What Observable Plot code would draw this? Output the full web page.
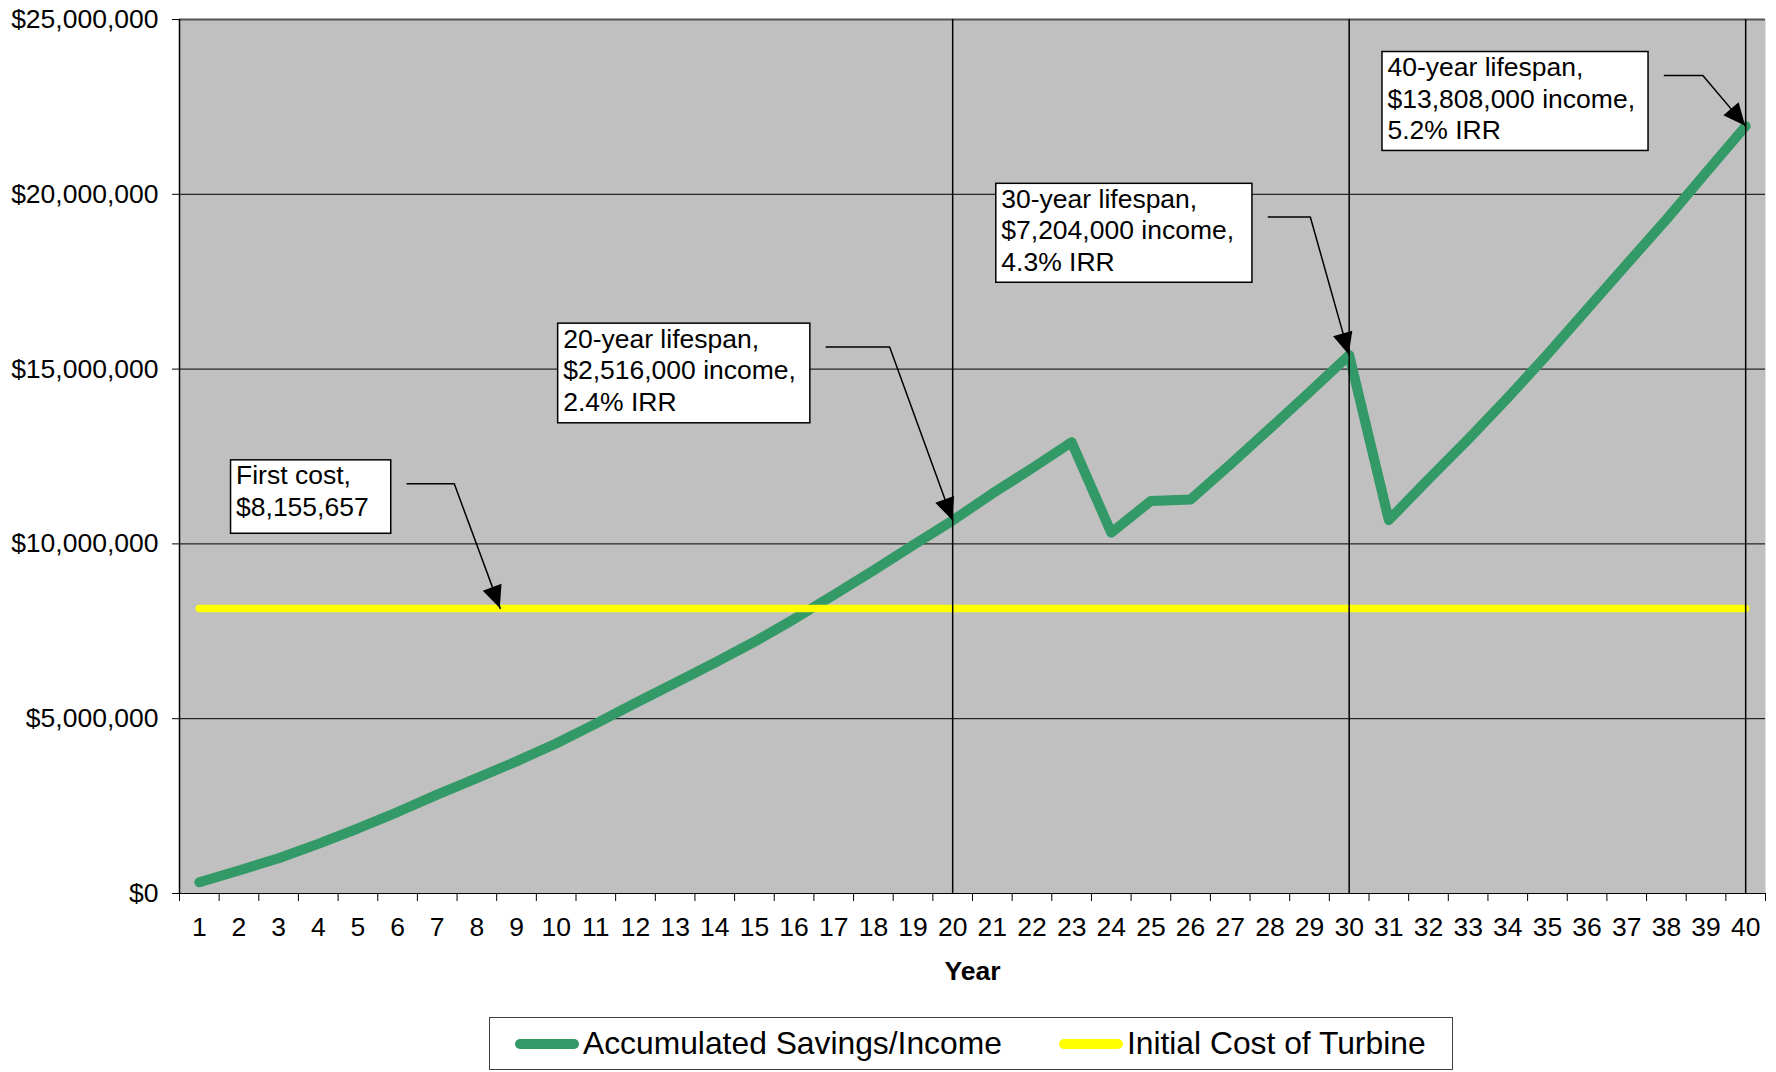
<!DOCTYPE html>
<html>
<head>
<meta charset="utf-8">
<script src="https://cdn.jsdelivr.net/npm/d3@7"></script>
<script src="https://cdn.jsdelivr.net/npm/@observablehq/plot@0.6"></script>
<style>
  html, body { margin: 0; padding: 0; background: #fff; }
  body { font-family: "Liberation Sans", Arial, sans-serif; position: relative; width: 1776px; height: 1072px; overflow: hidden; }
  #legend { position: absolute; left: 489px; top: 1017px; width: 964px; height: 53px; box-sizing: border-box;
            border: 1.5px solid #404040; display: flex; align-items: center; padding-left: 25px;
            font-size: 31.8px; color: #000; white-space: nowrap; }
  #legend .sw { display: inline-block; width: 64px; height: 10px; border-radius: 5px; margin-right: 4px; }
</style>
</head>
<body>
<div id="chart"></div>
<div id="legend"></div>
<script>
// ---- data ----
const years = [1,2,3,4,5,6,7,8,9,10,11,12,13,14,15,16,17,18,19,20,
               21,22,23,24,25,26,27,28,29,30,31,32,33,34,35,36,37,38,39,40];
const savings = [320000, 660000, 1010000, 1420000, 1860000, 2330000, 2830000, 3300000, 3780000, 4290000,
                 4860000, 5450000, 6020000, 6600000, 7200000, 7850000, 8540000, 9240000, 9960000, 10670000,
                 11440000, 12160000, 12910000, 10320000, 11230000, 11270000, 12270000, 13300000, 14340000, 15400000,
                 10680000, 11850000, 12990000, 14180000, 15420000, 16710000, 18000000, 19280000, 20620000, 21950000];
const firstCost = 8155657;
const yTicks = [0, 5000000, 10000000, 15000000, 20000000, 25000000];
const lifespanYears = [20, 30, 40];
const seriesNames = ["Accumulated Savings/Income", "Initial Cost of Turbine"];
const seriesColors = ["#339966", "#ffff00"];

const annotations = [
  {label: "First cost,\n$8,155,657",
   x1: 1.80, x2: 5.84, y1: 12390000, y2: 10290000, sx: 6.24, sy: 11720000, ex: 7.43, tx: 8.59, ty: firstCost},
  {label: "20-year lifespan,\n$2,516,000 income,\n2.4% IRR",
   x1: 10.05, x2: 16.41, y1: 16300000, y2: 13450000, sx: 16.81, sy: 15630000, ex: 18.41, tx: 20, ty: savings[19]},
  {label: "30-year lifespan,\n$7,204,000 income,\n4.3% IRR",
   x1: 21.10, x2: 27.56, y1: 20300000, y2: 17470000, sx: 27.96, sy: 19350000, ex: 29.02, tx: 30, ty: savings[29]},
  {label: "40-year lifespan,\n$13,808,000 income,\n5.2% IRR",
   x1: 30.84, x2: 37.55, y1: 24070000, y2: 21240000, sx: 37.95, sy: 23400000, ex: 38.92, tx: 40, ty: savings[39]}
];

// ---- derived tables ----
const rows = years.map((year, i) => ({year, savings: savings[i], cost: firstCost}));
const xDomain = [years[0] - 0.5, years[years.length - 1] + 0.5];
const boundaries = years.map(y => y - 0.5).concat([years[years.length - 1] + 0.5]);
const arrowPaths = annotations.flatMap((a, i) => [
  {i, x: a.sx, y: a.sy}, {i, x: a.ex, y: a.sy}, {i, x: a.tx, y: a.ty}
]);

const FONT = "'Liberation Sans', Arial, sans-serif";
const FS = 26.5;

function arrowHeads(index, scales) {
  const g = d3.create("svg:g");
  for (const a of annotations) {
    const x0 = scales.x(a.ex), y0 = scales.y(a.sy);
    const x1 = scales.x(a.tx), y1 = scales.y(a.ty);
    const ang = Math.atan2(y1 - y0, x1 - x0);
    const L = 22, W = 10;
    const bx = x1 - L * Math.cos(ang), by = y1 - L * Math.sin(ang);
    const px = -Math.sin(ang) * W, py = Math.cos(ang) * W;
    g.append("path")
      .attr("d", `M${x1},${y1}L${bx + px},${by + py}L${bx - px},${by - py}Z`)
      .attr("fill", "#000");
  }
  return g.node();
}

const chart = Plot.plot({
  width: 1776,
  height: 1008,
  marginLeft: 179,
  marginRight: 11,
  marginTop: 19,
  marginBottom: 115,
  style: {fontFamily: FONT, fontSize: FS + "px", color: "#000", background: "#fff", overflow: "visible"},
  x: {type: "linear", domain: xDomain},
  y: {type: "linear", domain: [0, 25000000]},
  marks: [
    Plot.frame({fill: "#c0c0c0", stroke: null}),
    Plot.ruleY(yTicks, {stroke: "#000", strokeWidth: 1}),
    Plot.ruleY([yTicks[yTicks.length - 1]], {stroke: "#555", strokeWidth: 2}),
    Plot.ruleX([xDomain[0]], {stroke: "#000", strokeWidth: 1.5}),
    Plot.axisY(yTicks, {tickSize: 7, tickPadding: 14, label: null, fontSize: FS,
      tickFormat: d => "$" + d3.format(",")(d), stroke: "#000"}),
    Plot.axisX(boundaries, {tickSize: 8, tickFormat: () => "", label: null, stroke: "#000"}),
    Plot.axisX(years, {tickSize: 0, tickPadding: 24, label: null, fontSize: FS, tickFormat: d => String(d)}),
    Plot.text(["Year"], {frameAnchor: "bottom", dy: 78, fontWeight: "bold", fontSize: FS, lineAnchor: "middle", fill: "#000"}),
    Plot.line(rows, {x: "year", y: "savings", stroke: seriesColors[0], strokeWidth: 10,
      strokeLinejoin: "round", strokeLinecap: "round"}),
    Plot.line(rows, {x: "year", y: "cost", stroke: seriesColors[1], strokeWidth: 7.5, strokeLinecap: "round"}),
    Plot.ruleX(lifespanYears, {stroke: "#000", strokeWidth: 1.5}),
    Plot.rect(annotations, {x1: "x1", x2: "x2", y1: "y1", y2: "y2", fill: "#fff", stroke: "#000", strokeWidth: 1.5}),
    Plot.text(annotations, {x: "x1", y: "y1", text: "label", textAnchor: "start", lineAnchor: "top",
      dx: 5, dy: 1.5, lineHeight: 1.196, fontSize: FS, fill: "#000"}),
    Plot.line(arrowPaths, {x: "x", y: "y", z: "i", stroke: "#000", strokeWidth: 1.5}),
    arrowHeads
  ]
});
document.getElementById("chart").appendChild(chart);

// ---- legend ----
const legend = d3.select("#legend");
seriesNames.forEach((name, i) => {
  legend.append("span").attr("class", "sw")
    .style("background", seriesColors[i])
    .style("margin-left", i === 0 ? "0px" : "57px");
  legend.append("span").text(name);
});
</script>
</body>
</html>
